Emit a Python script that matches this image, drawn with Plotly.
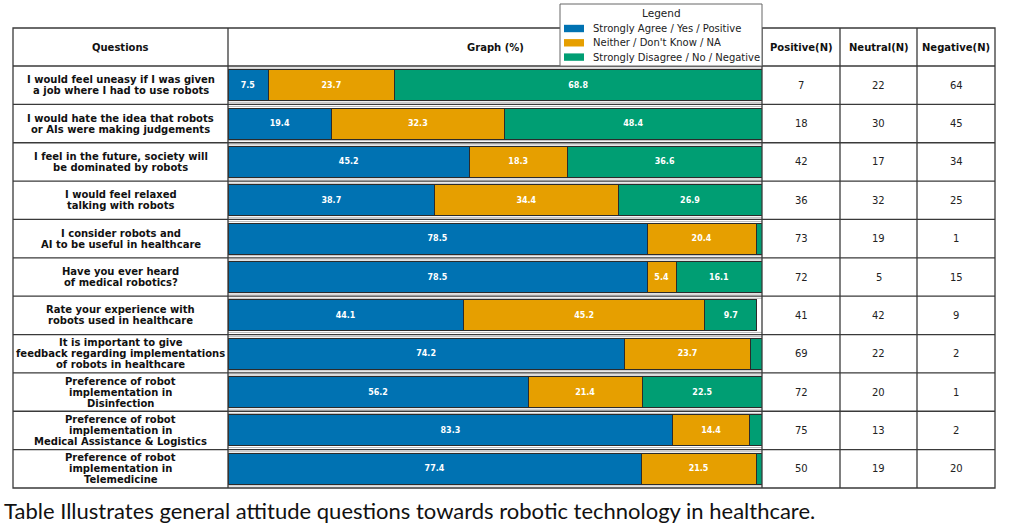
import plotly.graph_objects as go

questions = [
    "I would feel uneasy if I was given<br>a job where I had to use robots",
    "I would hate the idea that robots<br>or AIs were making judgements",
    "I feel in the future, society will<br>be dominated by robots",
    "I would feel relaxed<br>talking with robots",
    "I consider robots and<br>AI to be useful in healthcare",
    "Have you ever heard<br>of medical robotics?",
    "Rate your experience with<br>robots used in healthcare",
    "It is important to give<br>feedback regarding implementations<br>of robots in healthcare",
    "Preference of robot<br>implementation in<br>Disinfection",
    "Preference of robot<br>implementation in<br>Medical Assistance & Logistics",
    "Preference of robot<br>implementation in<br>Telemedicine",
]
pos_pct = [7.5, 19.4, 45.2, 38.7, 78.5, 78.5, 44.1, 74.2, 56.2, 83.3, 77.4]
neu_pct = [23.7, 32.3, 18.3, 34.4, 20.4, 5.4, 45.2, 23.7, 21.4, 14.4, 21.5]
neg_pct = [68.8, 48.4, 36.6, 26.9, 1.1, 16.1, 9.7, 2.1, 22.5, 2.3, 1.1]
pos_n = [7, 18, 42, 36, 73, 72, 41, 69, 72, 75, 50]
neu_n = [22, 30, 17, 32, 19, 5, 42, 22, 20, 13, 19]
neg_n = [64, 45, 34, 25, 1, 15, 9, 2, 1, 2, 20]

series_names = ["Strongly Agree / Yes / Positive", "Neither / Don't Know / NA",
                "Strongly Disagree / No / Negative"]
colors = ["#0072B2", "#E69F00", "#009E73"]
headers = ["Questions", "Graph (%)", "Positive(N)", "Neutral(N)", "Negative(N)"]
legend_title = "Legend"
caption = "Table Illustrates general attitude questions towards robotic technology in healthcare."

W, H = 1012, 525
FONT = "DejaVu Sans"
# table geometry in pixels
col_x = [13, 228, 762, 840, 917, 995]
top_px, head_px, bot_px = 28, 66, 488
row_px = (bot_px - head_px) / len(questions)

def px(x):
    return x / W

def py(y):
    return 1 - y / H

rows = list(range(len(questions)))
fig = go.Figure()
for name, vals, col in zip(series_names, [pos_pct, neu_pct, neg_pct], colors):
    fig.add_trace(go.Bar(
        y=rows, x=vals, orientation="h", name=name,
        marker=dict(color=col, line=dict(color="#2b2b2b", width=1)),
        text=[f"{v:.1f}" if v >= 5 else "" for v in vals],
        textposition="inside", insidetextanchor="middle",
        textfont=dict(family=FONT, size=8, color="white", weight="bold"),
        constraintext="none",
        hoverinfo="skip", showlegend=False,
    ))

shapes = []
dark = dict(color="#3a3a3a", width=1.3)
light = dict(color="#a8a8a8", width=0.8)
# outer border
shapes.append(dict(type="rect", xref="paper", yref="paper", x0=px(col_x[0]), x1=px(col_x[-1]),
                   y0=py(bot_px), y1=py(top_px), line=dark, layer="above"))
# vertical column lines
for cx in col_x[1:-1]:
    shapes.append(dict(type="line", xref="paper", yref="paper", x0=px(cx), x1=px(cx),
                       y0=py(bot_px), y1=py(top_px), line=dark, layer="above"))
# header line
shapes.append(dict(type="line", xref="paper", yref="paper", x0=px(col_x[0]), x1=px(col_x[-1]),
                   y0=py(head_px), y1=py(head_px), line=dark, layer="above"))
# row lines
for i in rows[:-1]:
    shapes.append(dict(type="line", xref="paper", yref="y", x0=px(col_x[0]), x1=px(col_x[-1]),
                       y0=i + 0.5, y1=i + 0.5, line=dark, layer="above"))
# graph cell frames (light double lines)
for i in rows:
    for off in (-0.445, 0.445):
        shapes.append(dict(type="line", xref="x", yref="y", x0=0, x1=100,
                           y0=i + off, y1=i + off, line=light, layer="below"))

ann = []
head_y = py((top_px + head_px) / 2)
for j, h in enumerate(headers):
    cx = (col_x[j] + col_x[j + 1]) / 2
    ann.append(dict(text=f"<b>{h}</b>", xref="paper", yref="paper", x=px(cx), y=head_y,
                    showarrow=False, font=dict(family=FONT, size=10, color="#111"),
                    xanchor="center", yanchor="middle"))
line_step = 11.0 / row_px
for i in rows:
    lines = questions[i].split("<br>")
    n = len(lines)
    for k, ln in enumerate(lines):
        ann.append(dict(text=f"<b>{ln}</b>", xref="paper", yref="y",
                        x=px((col_x[0] + col_x[1]) / 2), y=i + (k - (n - 1) / 2) * line_step,
                        showarrow=False, font=dict(family=FONT, size=10, color="#111"),
                        xanchor="center", yanchor="middle"))
    for j, arr in enumerate([pos_n, neu_n, neg_n]):
        cx = (col_x[2 + j] + col_x[3 + j]) / 2
        ann.append(dict(text=str(arr[i]), xref="paper", yref="y", x=px(cx), y=i,
                        showarrow=False, font=dict(family=FONT, size=10, color="#222"),
                        xanchor="center", yanchor="middle"))

# legend box (drawn manually to match geometry)
lx0, lx1, ly0, ly1 = 560, 762, 4, 66
shapes.append(dict(type="rect", xref="paper", yref="paper", x0=px(lx0), x1=px(lx1),
                   y0=py(ly1), y1=py(ly0), line=dict(color="#666", width=1),
                   fillcolor="white", layer="above"))
ann.append(dict(text=legend_title, xref="paper", yref="paper", x=px((lx0 + lx1) / 2), y=py(13.5),
                showarrow=False, xanchor="center", yanchor="middle",
                font=dict(family=FONT, size=10.5, color="#222")))
for k, (name, col) in enumerate(zip(series_names, colors)):
    cy = 28.5 + 14.3 * k
    shapes.append(dict(type="rect", xref="paper", yref="paper", x0=px(564), x1=px(584),
                       y0=py(cy + 3.7), y1=py(cy - 3.7), line=dict(width=0),
                       fillcolor=col, layer="above"))
    ann.append(dict(text=name, xref="paper", yref="paper", x=px(591), y=py(cy),
                    showarrow=False, xanchor="left", yanchor="middle",
                    font=dict(family=FONT, size=10, color="#222")))

ann.append(dict(text=caption, xref="paper", yref="paper", x=px(3), y=0,
                showarrow=False, xanchor="left", yanchor="bottom", borderpad=0,
                font=dict(family="Lato", size=22, color="#111")))

fig.update_layout(
    width=W, height=H, margin=dict(l=0, r=0, t=0, b=0),
    paper_bgcolor="white", plot_bgcolor="white",
    barmode="stack", bargap=0.19,
    xaxis=dict(domain=[px(col_x[1]), px(col_x[2])], range=[0, 100], visible=False, fixedrange=True),
    yaxis=dict(domain=[py(bot_px), py(head_px)], range=[len(rows) - 0.5, -0.5], visible=False,
               fixedrange=True),
    shapes=shapes, annotations=ann,
    showlegend=False,
    font=dict(family=FONT),
)
fig.write_html("out.html", config={"displayModeBar": False},
               post_script="document.body.style.margin='0';document.body.style.overflow='hidden';")
